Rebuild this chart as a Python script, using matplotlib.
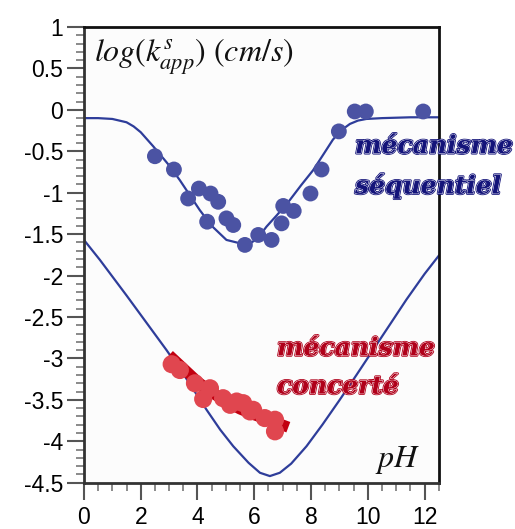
import matplotlib
matplotlib.use("Agg")
import matplotlib.pyplot as plt
import matplotlib.patheffects as pe
from matplotlib.ticker import MultipleLocator

# fit curve, sequential mechanism
seq_fit_x = [0.0, 0.5, 1.0, 1.5, 1.75, 2.0, 2.44, 3.0, 3.38, 4.08, 4.5, 5.02, 5.49, 5.8, 6.1,
             6.43, 6.8, 7.25, 7.65, 8.07, 8.45, 8.77, 9.05, 9.37, 9.65, 9.95, 10.5, 11.5, 12.5]
seq_fit_y = [-0.10, -0.10, -0.11, -0.15, -0.20, -0.27, -0.44, -0.67, -0.85, -1.21, -1.40, -1.57,
             -1.61, -1.62, -1.56, -1.41, -1.27, -1.09, -0.91, -0.73, -0.53, -0.36, -0.25, -0.17,
             -0.13, -0.11, -0.10, -0.09, -0.09]

# fit curve, lower (concerted) model
conc_fit_x = [0.0, 0.56, 1.5, 2.91, 3.6, 4.32, 4.8, 5.26, 5.8, 6.2, 6.55, 6.9, 7.3, 7.84,
              8.4, 9.01, 9.6, 10.18, 10.8, 11.36, 12.0, 12.5]
conc_fit_y = [-1.57, -1.81, -2.24, -2.90, -3.24, -3.62, -3.86, -4.06, -4.26, -4.38, -4.42, -4.38,
              -4.27, -4.06, -3.80, -3.50, -3.20, -2.90, -2.58, -2.29, -1.98, -1.76]

# measured points, sequential
seq_x = [2.50, 3.17, 3.67, 4.05, 4.46, 4.73, 4.34, 5.02, 5.26, 5.67, 6.14, 6.61, 6.96, 7.02,
         7.39, 7.98, 8.37, 8.98, 9.54, 9.93, 11.95]
seq_y = [-0.56, -0.72, -1.07, -0.95, -1.01, -1.11, -1.35, -1.31, -1.39, -1.63, -1.51, -1.57,
         -1.37, -1.16, -1.22, -1.01, -0.72, -0.26, -0.02, -0.02, -0.02]

# measured points, concerted
conc_x = [3.09, 3.38, 3.91, 4.20, 4.44, 4.90, 5.15, 5.38, 5.61, 5.85, 5.96, 6.37, 6.73, 6.73]
conc_y = [-3.07, -3.14, -3.30, -3.49, -3.36, -3.48, -3.56, -3.52, -3.54, -3.64, -3.62, -3.72,
          -3.74, -3.88]

# dark red band under the red points
band_x = [3.0, 3.5, 4.0, 4.5, 5.0, 5.5, 6.0, 6.5, 7.2]
band_y = [-2.96, -3.12, -3.28, -3.41, -3.52, -3.61, -3.68, -3.74, -3.83]

fig = plt.figure(figsize=(5.15, 5.29), dpi=100)
ax = fig.add_axes([0.163, 0.0875, 0.689, 0.8615])
ax.set_facecolor("#fcfcfc")

line_blue = "#2e3d9a"
ax.plot(seq_fit_x, seq_fit_y, color=line_blue, lw=1.6, zorder=2)
ax.plot(conc_fit_x, conc_fit_y, color=line_blue, lw=1.6, zorder=2)
ax.plot(band_x, band_y, color="#c20010", lw=8, solid_capstyle="butt", zorder=3)
ax.scatter(seq_x, seq_y, s=130, color="#4b53a3", edgecolors="none", zorder=4)
ax.scatter(conc_x, conc_y, s=170, color="#e0464f", edgecolors="none", zorder=4)

ax.set_xlim(0, 12.5)
ax.set_ylim(-4.5, 1)
ax.xaxis.set_major_locator(MultipleLocator(2))
ax.xaxis.set_minor_locator(MultipleLocator(0.5))
ax.yaxis.set_major_locator(MultipleLocator(0.5))
ax.yaxis.set_minor_locator(MultipleLocator(0.1))
ax.yaxis.set_major_formatter(plt.FuncFormatter(lambda v, p: "%g" % round(v, 2)))

for s in ["left", "bottom"]:
    ax.spines[s].set_color("#333333")
    ax.spines[s].set_linewidth(2)
for s in ["top", "right"]:
    ax.spines[s].set_color("#111111")
    ax.spines[s].set_linewidth(2)

ax.tick_params(which="major", direction="out", length=12, width=1.5, color="#555555",
               labelsize=16.5, pad=3)
ax.tick_params(axis="x", which="major", pad=5)
ax.tick_params(which="minor", direction="out", length=6, width=1.2, color="#777777")
for lab in ax.get_xticklabels() + ax.get_yticklabels():
    lab.set_family("Liberation Sans")

plt.rcParams["mathtext.fontset"] = "stix"
ax.text(0.35, 0.64, r"$log(k^{s}_{app})\ (cm/s)$", fontsize=23, color="#111111",
        va="center", ha="left")
ax.text(11.85, -4.22, r"$pH$", fontsize=23, color="#111111", ha="right", va="center")

def fancy(x, y, txt, col):
    t = ax.text(x, y, txt, fontsize=18, color=col, family="DejaVu Serif",
                style="italic", weight="bold", ha="left", va="center", clip_on=False)
    t.set_path_effects([pe.Stroke(linewidth=1.8, foreground=col),
                        pe.Stroke(linewidth=0.6, foreground="white"),
                        pe.Normal()])

fancy(9.55, -0.44, "mécanisme", "#14147a")
fancy(9.55, -0.92, "séquentiel", "#14147a")
fancy(6.8, -2.88, "mécanisme", "#b0001a")
fancy(6.8, -3.34, "concerté", "#b0001a")

fig.savefig("out.png", dpi=100)
